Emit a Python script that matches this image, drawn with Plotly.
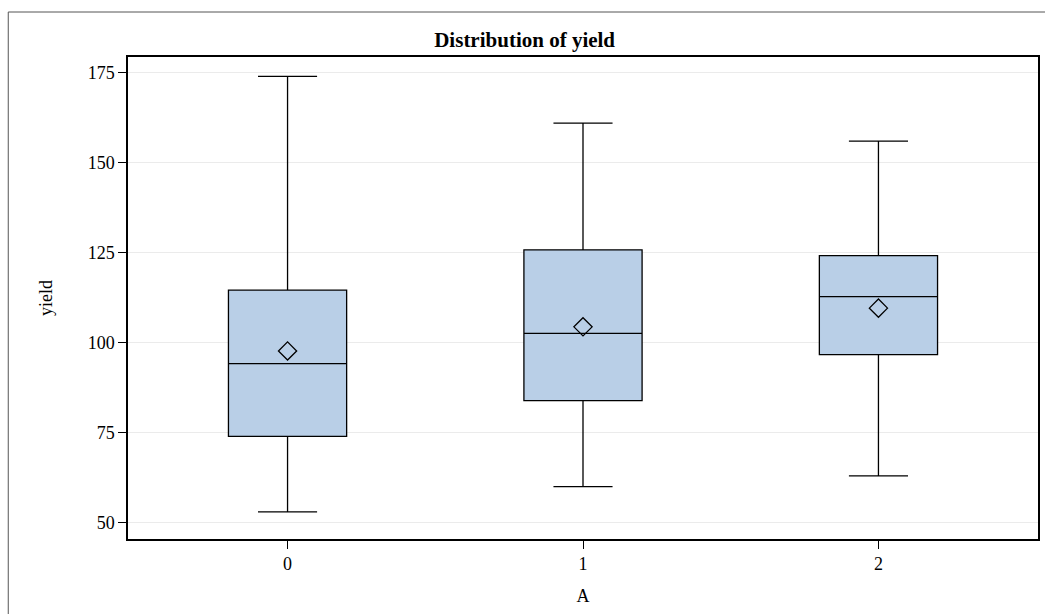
import plotly.graph_objects as go

categories = [0, 1, 2]
tick_labels = ["0", "1", "2"]
q1 = [74.0, 83.9, 96.7]
median = [94.2, 102.6, 112.8]
q3 = [114.6, 125.8, 124.2]
lower = [53.0, 60.0, 63.0]
upper = [174.0, 161.0, 156.0]
mean = [97.7, 104.4, 109.6]

FONT = "Liberation Serif"

fig = go.Figure()
fig.add_trace(go.Box(
    x=categories, q1=q1, median=median, q3=q3,
    lowerfence=lower, upperfence=upper,
    fillcolor="#B9CFE7", line=dict(color="black", width=1.3),
    whiskerwidth=0.5, width=0.4, boxpoints=False, showlegend=False,
    hoverinfo="skip",
))
fig.add_trace(go.Scatter(
    x=categories, y=mean, mode="markers",
    marker=dict(symbol="diamond-open", size=14, color="black", line=dict(width=1.3, color="black")),
    showlegend=False, hoverinfo="skip",
))

W, H = 1047, 614
L, R, T, B = 128, 7, 57, 75
pw = W - L - R
ph = H - T - B

def px_x(p):
    return (p - L) / pw

def px_y(p):
    return (H - B - p) / ph

fig.update_layout(
    width=W, height=H,
    margin=dict(l=L, r=R, t=T, b=B),
    paper_bgcolor="white", plot_bgcolor="white",
    font=dict(family=FONT, size=18, color="black"),
    title=dict(text="<b>Distribution of yield</b>", x=px_x(585), xanchor="center",
               y=1 - 40 / H, yanchor="middle", font=dict(family=FONT, size=21, color="black")),
    xaxis=dict(
        range=[-0.54, 2.54], tickvals=categories, ticktext=tick_labels,
        showgrid=False, zeroline=False,
        showline=True, linecolor="black", linewidth=1.5, mirror=True,
        ticks="outside", ticklen=8, tickwidth=1.3, tickcolor="black",
        title=dict(text="A", font=dict(family=FONT, size=18), standoff=16),
        tickfont=dict(family=FONT, size=18),
    ),
    yaxis=dict(
        range=[45.47, 179.36], tickvals=[50, 75, 100, 125, 150, 175],
        showgrid=True, gridcolor="#EBEBEB", gridwidth=1, zeroline=False,
        showline=True, linecolor="black", linewidth=1.5, mirror=True,
        ticks="outside", ticklen=8, tickwidth=1.3, tickcolor="black",
        title=dict(text="yield", font=dict(family=FONT, size=18), standoff=30),
        tickfont=dict(family=FONT, size=18),
    ),
    shapes=[
        dict(type="line", xref="paper", yref="paper", x0=px_x(8), x1=px_x(1047), y0=px_y(12), y1=px_y(12),
             line=dict(color="#555555", width=1)),
        dict(type="line", xref="paper", yref="paper", x0=px_x(8), x1=px_x(8), y0=px_y(12), y1=px_y(620),
             line=dict(color="#555555", width=1)),
    ],
)

fig.write_html("out.html", config={"displayModeBar": False},
               post_script="document.body.style.margin='0';document.body.style.overflow='hidden';")
